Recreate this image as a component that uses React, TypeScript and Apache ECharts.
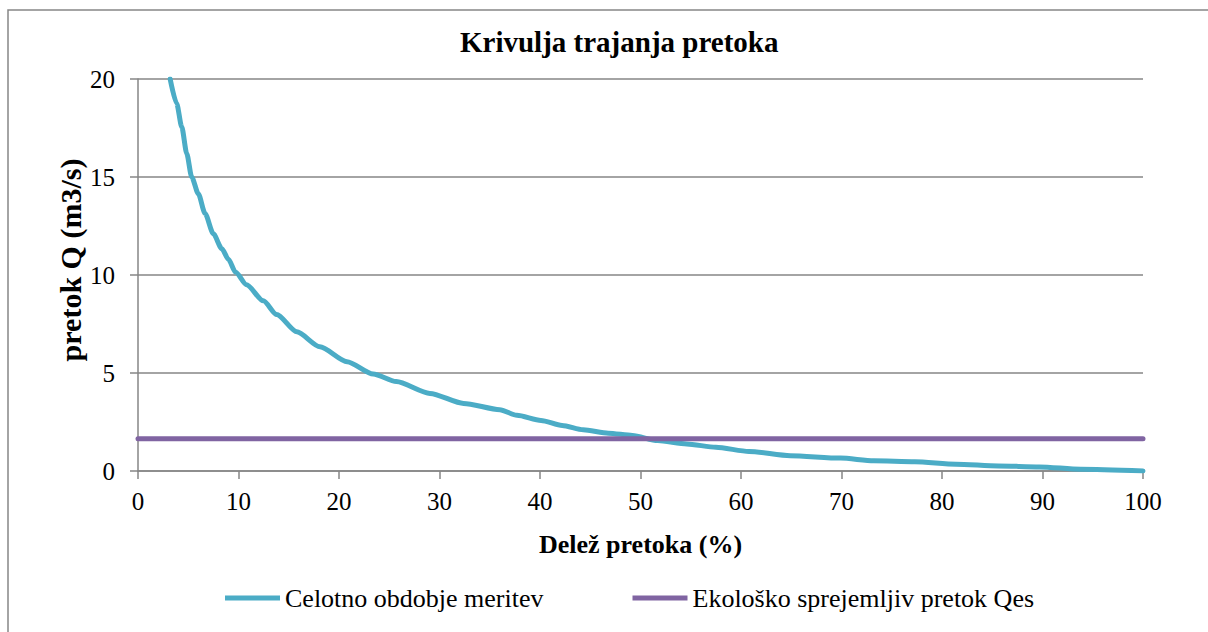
import React, { useEffect, useRef } from "react";
import * as echarts from "echarts";

const titleText = "Krivulja trajanja pretoka";
const xAxisName = "Delež pretoka (%)";
const yAxisName = "pretok Q (m3/s)";
const seriesNames = ["Celotno obdobje meritev", "Ekološko sprejemljiv pretok Qes"];

// Flow duration curve: share of time (%) vs discharge Q (m3/s)
const durationPct = [
  3.2, 3.85, 4.35, 4.85, 5.34, 6.0, 6.67, 7.5, 8.33, 9.0, 9.7, 10.8,
  12.47, 13.8, 15.8, 18.1, 20.8, 23.4, 25.7, 29.05, 32.4, 36.0, 37.7, 40.1,
  42.2, 44.3, 46.8, 49.2, 51.7, 54.6, 57.5, 60.8, 64.9, 69.9, 73.2, 77.3,
  81.4, 85.6, 89.7, 93.8, 100,
];
const flowQ = [
  20.0, 18.75, 17.56, 16.2, 15.0, 14.15, 13.14, 12.1, 11.35, 10.8, 10.15,
  9.5, 8.68, 7.98, 7.1, 6.34, 5.58, 4.95, 4.56, 3.96, 3.45, 3.13, 2.84, 2.58,
  2.32, 2.1, 1.93, 1.81, 1.55, 1.38, 1.21, 1.0, 0.78, 0.66, 0.52, 0.47, 0.35,
  0.26, 0.21, 0.09, 0.0,
];
// Ecologically acceptable flow (constant)
const qesPct = [0, 100];
const qesValue = [1.65, 1.65];

const FONT = "Liberation Serif";
const GRAY = "#868686";

export default function App() {
  const ref = useRef<HTMLDivElement>(null);
  useEffect(() => {
    if (!ref.current) return;
    const chart = echarts.init(ref.current, undefined, { renderer: "svg" });
    chart.setOption({
      animation: false,
      backgroundColor: "#ffffff",
      textStyle: { fontFamily: FONT },
      title: {
        text: titleText,
        left: 455,
        top: 22,
        textStyle: { fontFamily: FONT, fontSize: 29, fontWeight: "bold", color: "#000" },
      },
      graphic: [
        {
          type: "rect",
          z: -10,
          shape: { x: 8, y: 10, width: 1220, height: 650 },
          style: { fill: "none", stroke: GRAY, lineWidth: 1.5 },
        },
        {
          type: "text",
          x: 70,
          y: 260,
          rotation: Math.PI / 2,
          style: {
            text: yAxisName,
            fontFamily: FONT,
            fontSize: 30,
            fontWeight: "bold",
            fill: "#000",
            align: "center",
            verticalAlign: "middle",
          },
        },
      ],
      legend: {
        left: 220,
        top: 580,
        itemWidth: 55,
        itemHeight: 5,
        itemGap: 89,
        icon: "rect",
        textStyle: { fontFamily: FONT, fontSize: 26, color: "#000" },
        data: seriesNames,
      },
      grid: { left: 138, right: 65, top: 79, bottom: 161, containLabel: false },
      xAxis: {
        type: "value",
        min: 0,
        max: 100,
        interval: 10,
        name: xAxisName,
        nameLocation: "middle",
        nameGap: 60,
        nameTextStyle: { fontFamily: FONT, fontSize: 26, fontWeight: "bold", color: "#000" },
        axisLine: { show: true, lineStyle: { color: GRAY, width: 1.5 } },
        axisTick: { show: true, inside: false, length: 8, lineStyle: { color: GRAY, width: 1.5 } },
        axisLabel: { fontFamily: FONT, fontSize: 25, color: "#000", margin: 18 },
        splitLine: { show: false },
      },
      yAxis: {
        type: "value",
        min: 0,
        max: 20,
        interval: 5,
        axisLine: { show: true, lineStyle: { color: GRAY, width: 1.5 } },
        axisTick: { show: true, inside: false, length: 8, lineStyle: { color: GRAY, width: 1.5 } },
        axisLabel: { fontFamily: FONT, fontSize: 25, color: "#000", margin: 23 },
        splitLine: { show: true, lineStyle: { color: GRAY, width: 1.5 } },
      },
      series: [
        {
          name: seriesNames[0],
          type: "line",
          data: durationPct.map((p, i) => [p, flowQ[i]]),
          showSymbol: false,
          symbol: "none",
          clip: true,
          smooth: 0.25,
          smoothMonotone: "x",
          lineStyle: { color: "#4BACC6", width: 5, cap: "round", join: "round" },
          itemStyle: { color: "#4BACC6" },
          z: 3,
        },
        {
          name: seriesNames[1],
          type: "line",
          data: qesPct.map((p, i) => [p, qesValue[i]]),
          showSymbol: false,
          symbol: "none",
          lineStyle: { color: "#8064A2", width: 5, cap: "round" },
          itemStyle: { color: "#8064A2" },
          z: 4,
        },
      ],
    });
    return () => chart.dispose();
  }, []);
  return (
    <div
      ref={ref}
      style={{ position: "absolute", left: 0, top: 0, width: 1208, height: 632 }}
    />
  );
}
